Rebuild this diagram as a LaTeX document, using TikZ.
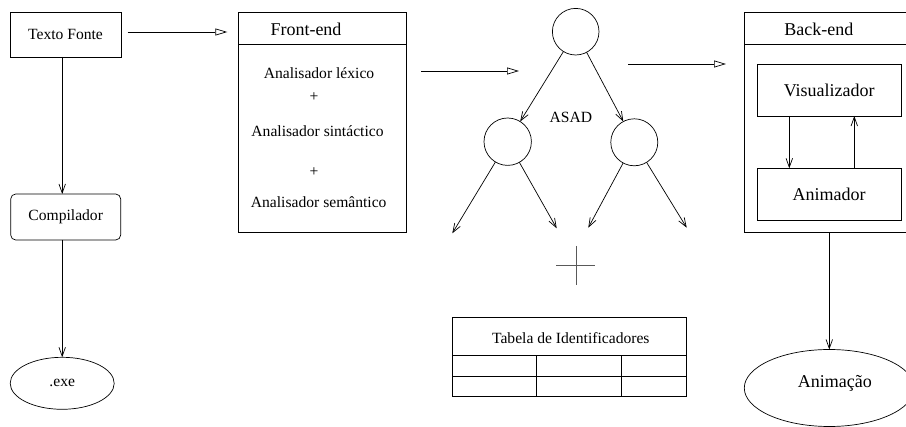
\documentclass[tikz,border=0pt]{standalone}
\usepackage{fontspec}
\setmainfont{Liberation Serif}
\usetikzlibrary{arrows.meta,shapes.geometric}
\begin{document}
\begin{tikzpicture}[x=1pt,y=-1pt,
  every node/.style={inner sep=0pt,outer sep=0pt},
  lw/.style={line width=0.7pt},
  box/.style={draw,lw,rectangle},
  rbox/.style={draw,lw,rectangle,rounded corners=5pt},
  oval/.style={draw,lw,ellipse},
  circ/.style={draw,lw,circle},
  small/.style={font=\fontsize{15.6}{18}\selectfont},
  big/.style={font=\fontsize{18}{21}\selectfont},
  oarrow/.style={lw,-{Triangle[open,length=12pt,width=7pt]}},
  stick/.style={lw,-{Straight Barb[length=9pt,width=6.5pt]}},
  thinline/.style={lw}]
\useasboundingbox (0,0) rectangle (906,427);

% left column
\node[box,small,minimum width=111,minimum height=45] (tf) at (65.5,34.5) {Texto Fonte};
\node[rbox,small,minimum width=110,minimum height=46] (comp) at (65.7,217) {Compilador};
\node[oval,small,minimum width=104,minimum height=52] (exe) at (62.2,383.3) {.exe};
\draw[stick] (tf.south -| exe.north) -- (comp.north -| exe.north);
\draw[stick] (comp.south -| exe.north) -- (exe.north);

% front-end
\node[box,minimum width=168.4,minimum height=220] (front) at (322.5,122.3) {};
\coordinate (fh) at (0,44);
\draw[thinline] (front.west |- fh) -- (front.east |- fh);
\node[big] (fetitle) at (306,29.5) {Front-end};
\node[small] (lex) at (319,72.7) {Analisador léxico};
\node[small] (p1) at (314,96.7) {+};
\node[small] (sin) at (317.5,131) {Analisador sintáctico};
\node[small] (p2) at (314,171.7) {+};
\node[small] (sem) at (318.7,201.7) {Analisador semântico};

\coordinate (ta) at (0,32);
\draw[oarrow,shorten <=6.7pt,shorten >=11pt] (tf.east |- ta) -- (front.west |- ta);

% arrow front -> tree
\coordinate (a1s) at (421,71);
\coordinate (a1e) at (519,71);
\draw[oarrow] (a1s) -- (a1e);

% tree
\node[circ,minimum size=46.6] (n0) at (575.7,31.7) {};
\node[circ,minimum size=47.4] (n1) at (507.7,141.7) {};
\node[circ,minimum size=47] (n2) at (634.3,142.3) {};
\draw[stick] (n0) -- (n1);
\draw[stick] (n0) -- (n2);
\coordinate (l1) at (452.3,233.3);
\coordinate (l2) at (556.7,228.3);
\coordinate (l3) at (588.3,227.7);
\coordinate (l4) at (686.7,227.7);
\draw[stick] (n1) -- (l1);
\draw[stick] (n1) -- (l2);
\draw[stick] (n2) -- (l3);
\draw[stick] (n2) -- (l4);
\node[small] (asad) at (570.8,117) {ASAD};

% plus sign
\draw[line width=0.8pt,black!65] (576,246) -- (576,285);
\draw[line width=0.8pt,black!65] (556,265.7) -- (595,265.7);

% table
\node[box,minimum width=234.4,minimum height=78.3] (tab) at (569.5,356.85) {};
\node[small] (tabt) at (570.8,338.5) {Tabela de Identificadores};
\coordinate (r1) at (0,355.7);
\coordinate (r2) at (0,376);
\coordinate (c1) at (536.7,0);
\coordinate (c2) at (621.7,0);
\draw[thinline] (tab.west |- r1) -- (tab.east |- r1);
\draw[thinline] (tab.west |- r2) -- (tab.east |- r2);
\draw[thinline] (c1 |- r1) -- (c1 |- tab.south);
\draw[thinline] (c2 |- r1) -- (c2 |- tab.south);

% arrow tree -> back-end
\coordinate (a2s) at (628.3,64);
\coordinate (a2e) at (726,64);
\draw[oarrow] (a2s) -- (a2e);

% back-end
\node[box,minimum width=216,minimum height=220] (back) at (852.3,122.3) {};
\draw[thinline] (back.west |- fh) -- (back.east |- fh);
\node[big] (betitle) at (818.8,29.5) {Back-end};
\node[box,big,minimum width=143.7,minimum height=52] (vis) at (829.2,90) {Visualizador};
\node[box,big,minimum width=143.7,minimum height=51.7] (anim) at (829.2,194.2) {Animador};
\coordinate (xv) at (789.3,0);
\coordinate (xa) at (854.3,0);
\draw[stick] (vis.south -| xv) -- (anim.north -| xv);
\draw[stick] (anim.north -| xa) -- (vis.south -| xa);

\node[oval,minimum width=170,minimum height=77] (ani) at (829.3,388) {};
\node[big] (anit) at (834.8,383.5) {Animação};
\draw[stick] (back.south -| ani.north) -- (ani.north);
\end{tikzpicture}
\end{document}
